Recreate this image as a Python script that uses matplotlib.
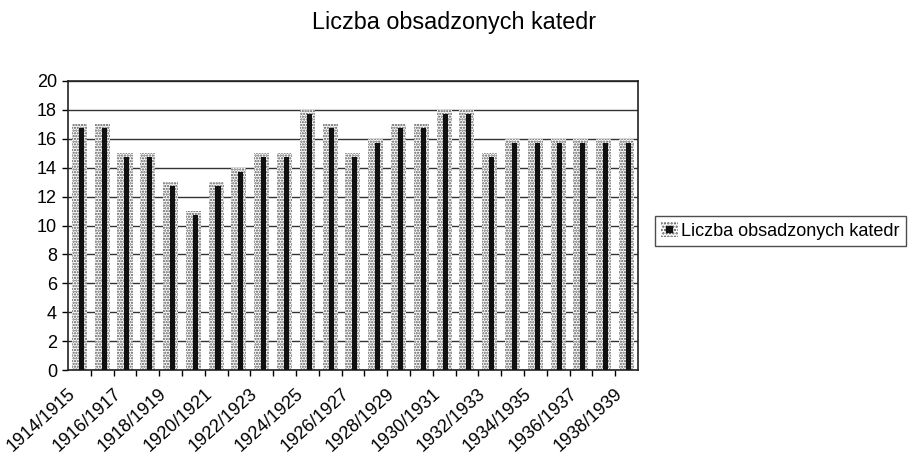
import matplotlib.pyplot as plt
from matplotlib.patches import Patch
from matplotlib.lines import Line2D
from matplotlib.transforms import ScaledTranslation

plt.rcParams['font.family'] = ['Liberation Sans', 'DejaVu Sans']
plt.rcParams['hatch.linewidth'] = 1.1

# lata akademickie i liczba obsadzonych katedr
lata = [f"{y}/{y + 1}" for y in range(1914, 1939)]
katedry = [17, 17, 15, 15, 13, 11, 13, 14, 15, 15, 18, 17, 15,
           16, 17, 17, 18, 18, 15, 16, 16, 16, 16, 16, 16]
etykieta = 'Liczba obsadzonych katedr'

fig = plt.figure(figsize=(9.09, 4.57), dpi=100)
ax = fig.add_axes([0.0748, 0.19, 0.627, 0.633])

x = list(range(len(lata)))
ax.bar(x, katedry, width=0.66, color='white', edgecolor='#555555',
       hatch='......', linewidth=0, zorder=2)
ax.bar([i + 0.08 for i in x], [v - 0.28 for v in katedry], width=0.22,
       color='#111111', zorder=3)

ax.set_ylim(0, 20)
ax.set_xlim(-0.5, len(lata) - 0.5)
ax.set_yticks(range(0, 21, 2))
ax.yaxis.grid(True, color='#333333', linewidth=1.0, zorder=0)
ax.set_axisbelow(True)
for s in ax.spines.values():
    s.set_color('#222222')
    s.set_linewidth(1.2)

ax.set_xticks(x[::2])
ax.set_xticklabels(lata[::2], rotation=42, ha='right', rotation_mode='anchor')
ax.set_xticks([i + 0.5 for i in x[:-1]], minor=True)
ax.tick_params(axis='x', which='major', length=0, labelsize=13, pad=11)
ax.tick_params(axis='x', which='minor', length=4, direction='out', width=1)
ax.tick_params(axis='y', labelsize=13, length=4, width=1, pad=4)
przesun = ScaledTranslation(-0.12, 0, fig.dpi_scale_trans)
for lab in ax.get_xticklabels():
    lab.set_transform(lab.get_transform() + przesun)

h = (Patch(facecolor='white', edgecolor='#555555', hatch='.....', linewidth=0),
     Line2D([], [], marker='s', color='#111111', markersize=4, linestyle='none'))
leg = fig.legend([h], [etykieta], loc='center left', bbox_to_anchor=(0.7206, 0.495),
                 borderaxespad=0, fontsize=13, frameon=True, fancybox=False,
                 handlelength=0.9, handleheight=0.9, handletextpad=0.2,
                 borderpad=0.35)
leg.get_frame().set_edgecolor('#222222')
leg.get_frame().set_linewidth(1.0)

fig.suptitle(etykieta, x=0.5, y=0.975, fontsize=16.8)

fig.savefig('out.png', dpi=100)
